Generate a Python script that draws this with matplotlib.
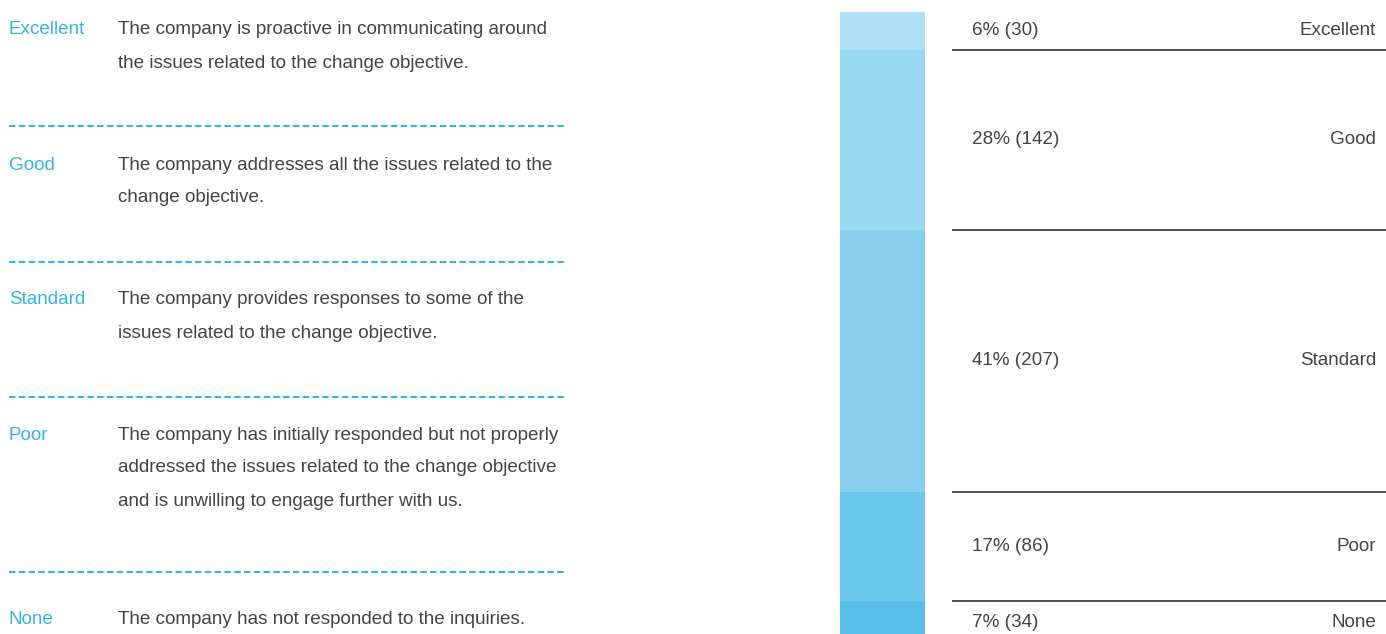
import matplotlib
matplotlib.use("Agg")
import matplotlib.pyplot as plt
import numpy as np

plt.rcParams['font.family'] = ['Liberation Sans', 'DejaVu Sans']

# ---- data ----
categories = ["Excellent", "Good", "Standard", "Poor", "None"]
percents = [6, 28, 41, 17, 7]
counts = [30, 142, 207, 86, 34]
descriptions = [
    ["The company is proactive in communicating around",
     "the issues related to the change objective."],
    ["The company addresses all the issues related to the",
     "change objective."],
    ["The company provides responses to some of the",
     "issues related to the change objective."],
    ["The company has initially responded but not properly",
     "addressed the issues related to the change objective",
     "and is unwilling to engage further with us."],
    ["The company has not responded to the inquiries."],
]
bar_colors = ["#addff5", "#99d8f1", "#88cfee", "#6dc7ec", "#58bde9"]

# ---- figure ----
W, H, DPI = 1386, 634, 100
fig = plt.figure(figsize=(W / DPI, H / DPI), dpi=DPI)
fig.patch.set_facecolor("white")

BLUE = "#35b4e6"
DARK = "#444444"
FS = 13.6

# Left panel: text layout in pixel coordinates
axl = fig.add_axes([0, 0, 1, 1])
axl.set_xlim(0, W)
axl.set_ylim(H, 0)
axl.axis("off")

row_y = [30, 165, 300, 435, 620]
dash_y = [126, 262, 397, 572]
line_gap = 33
for cat, lines, y0 in zip(categories, descriptions, row_y):
    axl.text(9, y0, cat, color=BLUE, fontsize=FS, va="center", ha="left")
    for i, ln in enumerate(lines):
        axl.text(118, y0 + i * line_gap, ln, color=DARK, fontsize=FS,
                 va="center", ha="left")
for y in dash_y:
    axl.plot([9, 564], [y, y], color=BLUE, lw=1.5, dashes=(3.1, 1.6),
             dash_capstyle="butt")

# Right panel: stacked bar in count units (top = 0)
axr = fig.add_axes([0, 0, 1, 1], facecolor="none")
px_per_count = 1.2665
top_px = 12
axr.set_xlim(0, W)
axr.set_ylim((H - top_px) / px_per_count, -top_px / px_per_count)
axr.axis("off")

counts_arr = np.array(counts)
starts = np.concatenate([[0], np.cumsum(counts_arr)[:-1]])
axr.bar(np.full(len(counts), 882.5), counts_arr, bottom=starts, width=85,
        color=bar_colors, edgecolor="none", linewidth=0)

bounds = np.cumsum(counts_arr)[:-1]
axr.hlines(bounds, 952, W, color="#333333", lw=1.2)

mids = starts + counts_arr / 2
for cat, p, c, m in zip(categories, percents, counts, mids):
    axr.text(972, m, f"{p}% ({c})", color=DARK, fontsize=FS, va="center", ha="left")
    axr.text(1376, m, cat, color=DARK, fontsize=FS, va="center", ha="right")

fig.savefig("out.png", dpi=DPI, facecolor="white")
